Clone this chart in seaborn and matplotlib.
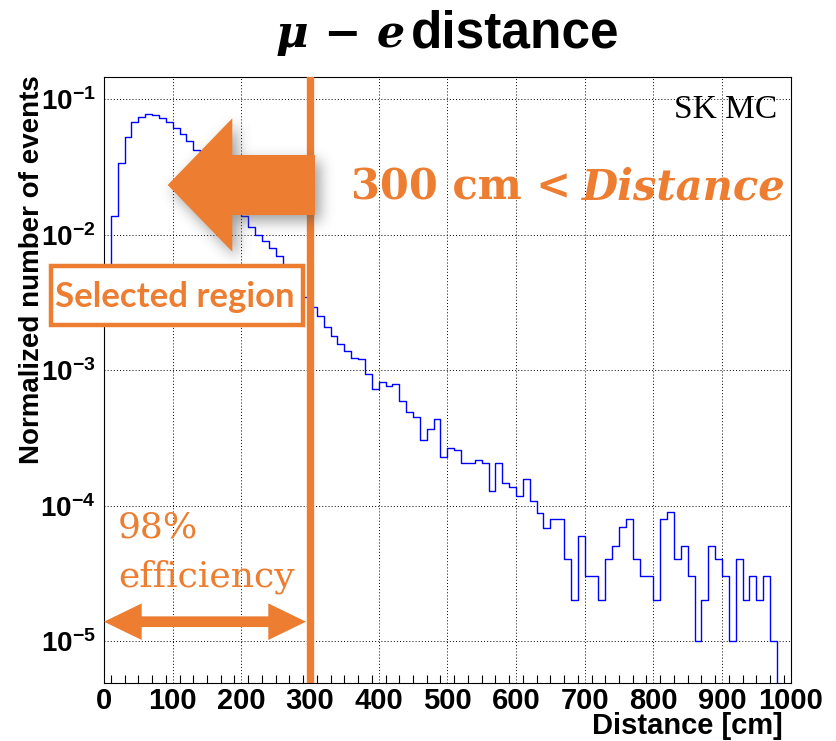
import numpy as np
import pandas as pd
import matplotlib
matplotlib.use("Agg")
import matplotlib.pyplot as plt
import seaborn as sns
from matplotlib.patches import Polygon, Rectangle
from matplotlib.path import Path
from matplotlib.ticker import FixedLocator, LogLocator, NullFormatter

# ---------------------------------------------------------------------------
# Data: normalized mu-e distance distribution, 10 cm bins from 0 to 1000 cm
# ---------------------------------------------------------------------------
bin_edges = list(range(0, 1001, 10))
bin_centers = [e + 5 for e in bin_edges[:-1]]

norm_events = [
    0.0040, 0.0137, 0.0336, 0.0530, 0.0676, 0.0744, 0.0775, 0.0766, 0.0723, 0.0676,
    0.0611, 0.0551, 0.0492, 0.0422, 0.0357, 0.0301, 0.0255, 0.0215, 0.0182, 0.0154,
    0.0137, 0.01143, 0.01004, 0.00901, 0.00792, 0.00695, 0.00585, 0.00492, 0.00414, 0.00348,
    0.00293, 0.00252, 0.00207, 0.00180, 0.00157, 0.00139, 0.00124, 0.00120, 0.000944, 0.000723,
    0.000824, 0.000770, 0.000796, 0.000592, 0.000494, 0.000454, 0.000304, 0.000366, 0.000435, 0.000227,
    0.000268, 0.000256, 0.000206, 0.000206, 0.000216, 0.000206, 0.000128, 0.000206, 0.000148, 0.000138,
    0.000118, 0.000157, 0.000108, 0.0000885, 0.0000687, 0.00008, 0.00008, 0.00004, 0.00002, 0.00006,
    0.00003, 0.00003, 0.00002, 0.00004, 0.00005, 0.00007, 0.00008, 0.00004, 0.00003, 0.00003,
    0.00002, 0.00008, 0.00009, 0.00004, 0.00005, 0.00003, 0.00001, 0.00002, 0.00005, 0.00004,
    0.00003, 0.00001, 0.00004, 0.00002, 0.00003, 0.00002, 0.00003, 0.00001, 0.0, 0.0,
]

x_ticks = list(range(0, 1001, 100))
y_decades = [1e-5, 1e-4, 1e-3, 1e-2, 1e-1]
y_range = (4.94e-6, 0.147)
cut_distance = 300

ORANGE = "#ED7D31"
BLUE = "#0000FF"

# ---------------------------------------------------------------------------
# Style
# ---------------------------------------------------------------------------
sns.set_style("white")
plt.rcParams.update({
    "font.family": ["Liberation Sans", "DejaVu Sans"],
    "mathtext.fontset": "custom",
    "mathtext.rm": "Liberation Sans",
    "mathtext.bf": "Liberation Sans:bold",
    "mathtext.it": "Liberation Sans:italic",
    "text.color": "black",
    "axes.labelcolor": "black",
    "axes.edgecolor": "black",
    "axes.linewidth": 0.8,
    "xtick.color": "black",
    "ytick.color": "black",
    "xtick.labelcolor": "black",
    "ytick.labelcolor": "black",
})

W, H = 836, 741
fig = plt.figure(figsize=(W / 100, H / 100), dpi=100)
fig.patch.set_facecolor("white")

ax = fig.add_axes([104 / W, 1 - 682.5 / H, (790.7 - 104) / W, (682.5 - 76.7) / H])

hist_df = pd.DataFrame({"distance": bin_centers, "norm": norm_events})
sns.histplot(data=hist_df, x="distance", weights="norm", bins=bin_edges, element="step",
             fill=False, color=BLUE, linewidth=1.0, ax=ax)
ax.set_yscale("log")
ax.set_xlim(0, 1000)
ax.set_ylim(*y_range)
ax.set_xlabel("")
ax.set_ylabel("")

# Selection cut line
ax.axvline(cut_distance, color=ORANGE, linewidth=5.3, zorder=5)

# Grid (dotted, at major ticks)
ax.grid(True, which="major", color="black", linestyle=(0, (1, 2.2)), linewidth=0.7)
ax.set_axisbelow(True)

# Ticks: inward, ROOT-like
ax.set_xticks(x_ticks)
ax.set_xticklabels([str(v) for v in x_ticks], fontsize=21, fontweight="bold", color="black")
ax.xaxis.set_minor_locator(FixedLocator([v for v in range(20, 1000, 20) if v % 100]))
ax.tick_params(axis="x", which="major", direction="in", length=16.5, width=0.8,
               top=False, pad=3)
ax.tick_params(axis="x", which="minor", direction="in", length=7.9, width=0.8, top=False)

sec = ax.secondary_xaxis("bottom")
sec.set_xticks(list(range(10, 1000, 20)))
sec.set_xticklabels([])
sec.tick_params(axis="x", which="both", direction="in", length=5.5, width=0.8)
for sp in sec.spines.values():
    sp.set_visible(False)

ax.set_yticks(y_decades)
ax.set_yticklabels([r"$\mathbf{10^{%d}}$" % int(round(np.log10(v))) for v in y_decades],
                   fontsize=20, color="black")
ax.yaxis.set_minor_locator(LogLocator(base=10, subs=np.arange(2, 10), numticks=30))
ax.yaxis.set_minor_formatter(NullFormatter())
ax.tick_params(axis="y", which="major", direction="in", length=11.5, width=0.8,
               right=False, pad=6)
ax.tick_params(axis="y", which="minor", direction="in", length=7.2, width=0.8, right=False)

# ---------------------------------------------------------------------------
# Overlay in pixel units for titles and annotations
# ---------------------------------------------------------------------------
ov = fig.add_axes([0, 0, 1, 1])
ov.set_facecolor("none")

# Big arrow pointing left, with a soft drop shadow
big_arrow = np.array([(315, 155), (232.3, 155), (232.3, 118.3), (167.7, 185),
                      (232.3, 251.7), (232.3, 215), (315, 215)])
yy, xx = np.mgrid[0:H, 0:W]
pts = np.column_stack([xx.ravel() + 0.5, yy.ravel() + 0.5])
mask = Path(big_arrow + np.array([5, 6])).contains_points(pts).reshape(H, W).astype(float)
sig = 7.0
kern = np.exp(-0.5 * (np.arange(-int(3 * sig), int(3 * sig) + 1) / sig) ** 2)
kern /= kern.sum()
blur = np.apply_along_axis(lambda r: np.convolve(r, kern, mode="same"), 1, mask)
blur = np.apply_along_axis(lambda c: np.convolve(c, kern, mode="same"), 0, blur)
shadow = np.zeros((H, W, 4))
shadow[..., :3] = 0.3
shadow[..., 3] = 0.55 * blur
ov.imshow(shadow, extent=(0, W, H, 0), aspect="auto", interpolation="bilinear", zorder=1)
ov.add_patch(Polygon(big_arrow, closed=True, facecolor=ORANGE, edgecolor="none", zorder=2))

# Double-headed arrow marking the selected range
yc = 621.7
dbl_arrow = np.array([(104, yc), (141.7, yc - 18.3), (141.7, yc - 5.35), (268.3, yc - 5.35),
                      (268.3, yc - 18.3), (306, yc), (268.3, yc + 18.3), (268.3, yc + 5.35),
                      (141.7, yc + 5.35), (141.7, yc + 18.3)])
ov.add_patch(Polygon(dbl_arrow, closed=True, facecolor=ORANGE, edgecolor="none", zorder=2))

# "Selected region" box
ov.add_patch(Rectangle((50.5, 265.5), 252.3, 59, facecolor="white", edgecolor=ORANGE,
                       linewidth=3.2, zorder=3))
ov.text(175.3, 306.7, "Selected region", family="Lato", fontweight="bold", fontsize=25,
        color=ORANGE, ha="center", va="baseline", zorder=4)

# Cut condition label
t_cut = ov.text(350.7, 200, "300 cm <", family="DejaVu Serif", fontweight="bold",
                fontsize=30, color=ORANGE, ha="left", va="baseline", zorder=4)
ov.annotate("Distance", xy=(1, 0), xycoords=t_cut, xytext=(8, 0), textcoords="offset points",
            family="DejaVu Serif", fontweight="bold", fontstyle="italic", fontsize=30,
            color=ORANGE, ha="left", va="bottom", zorder=4)

# Efficiency label
ov.text(118, 538, "98%", family="DejaVu Serif", fontsize=26, color=ORANGE,
        ha="left", va="baseline", zorder=4)
ov.text(118, 587, "efficiency", family="DejaVu Serif", fontsize=26, color=ORANGE,
        ha="left", va="baseline", zorder=4)

# Sample tag
ov.text(777, 118, "SK MC", family="Liberation Serif", fontsize=24, color="black",
        ha="right", va="baseline", zorder=4)

# Title
ov.text(405, 47, "μ − e", family=["DejaVu Serif"], fontstyle="italic", fontweight="bold",
        fontsize=32, color="black", ha="right", va="baseline")
ov.text(411, 47, "distance", family="Liberation Sans", fontweight="bold", fontsize=37,
        color="black", ha="left", va="baseline")

# Axis titles
ov.text(32, 75, "Normalized number of events", family="Liberation Sans", fontweight="bold",
        fontsize=20, rotation=90, ha="center", va="top", color="black")
ov.text(783, 734, "Distance [cm]", family="Liberation Sans", fontweight="bold",
        fontsize=21, ha="right", va="baseline", color="black")

ov.set_xlim(0, W)
ov.set_ylim(H, 0)
ov.axis("off")

fig.savefig("out.png", dpi=100, facecolor="white")
